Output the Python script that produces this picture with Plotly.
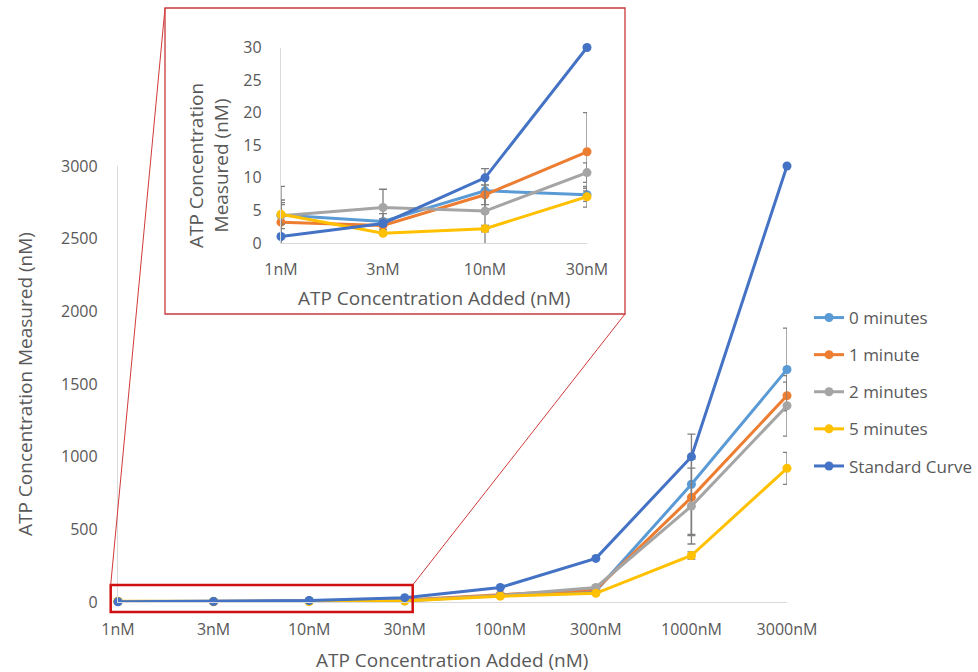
import plotly.graph_objects as go

# ---------------- data ----------------
categories = ["1nM", "3nM", "10nM", "30nM", "100nM", "300nM", "1000nM", "3000nM"]
series_names = ["0 minutes", "1 minute", "2 minutes", "5 minutes", "Standard Curve"]

min0 = [4.3, 3.3, 8.0, 7.4, 45, 75, 810, 1600]
min1 = [3.2, 2.7, 7.4, 14.0, 50, 85, 720, 1420]
min2 = [4.2, 5.45, 4.9, 10.8, 45, 100, 660, 1350]
min5 = [4.4, 1.5, 2.2, 7.1, 40, 60, 320, 920]
standard = [1, 3, 10, 30, 100, 300, 1000, 3000]

err0 = [4.4, 1.2, 3.4, 1.0, 10, 15, 345, 284]
err1 = [3.4, 1.0, 1.5, 6.0, 10, 15, 263, 93]
err2 = [2.0, 2.8, 5.0, 1.5, 10, 15, 261, 208]
err5 = [1.5, 0.3, 0.5, 1.6, 5, 10, 25, 110]

y_ticks = [0, 500, 1000, 1500, 2000, 2500, 3000]
inset_ticks = [0, 5, 10, 15, 20, 25, 30]
n_inset = 4

values = [min0, min1, min2, min5, standard]
errors = [err0, err1, err2, err5, None]
colors = ["#5B9BD5", "#ED7D31", "#A5A5A5", "#FFC000", "#4472C4"]

# ---------------- layout helpers ----------------
W, H = 978, 672
def px(x):
    return x / W
def py(y):
    return 1 - y / H

TXT = "#595959"
FONT = "Open Sans"
AX = "#d9d9d9"
ERRC = "#7f7f7f"

fig = go.Figure()

for name, vals, err, col in zip(series_names, values, errors, colors):
    ey = None
    if err is not None:
        ey = dict(type="data", array=err, visible=True, color=ERRC, thickness=1.3, width=4)
    fig.add_trace(go.Scatter(
        x=categories, y=vals, name=name, mode="lines+markers",
        line=dict(color=col, width=3), marker=dict(size=9, color=col),
        error_y=ey, cliponaxis=False, legendgroup=name,
        xaxis="x", yaxis="y"))

for name, vals, err, col in zip(series_names, values, errors, colors):
    ey = None
    if err is not None:
        ey = dict(type="data", array=err[:n_inset], visible=True, color=ERRC, thickness=1.3, width=4)
    fig.add_trace(go.Scatter(
        x=categories[:n_inset], y=vals[:n_inset], name=name, mode="lines+markers",
        line=dict(color=col, width=3), marker=dict(size=9, color=col),
        error_y=ey, cliponaxis=False, showlegend=False,
        xaxis="x2", yaxis="y2"))

axis_common = dict(showgrid=False, zeroline=False, showline=True, linecolor=AX,
                   linewidth=1.3, ticks="", fixedrange=True, automargin=False,
                   tickfont=dict(family=FONT, size=16, color=TXT))

fig.update_layout(
    width=W, height=H,
    margin=dict(l=0, r=0, t=0, b=0, autoexpand=False),
    paper_bgcolor="white", plot_bgcolor="rgba(0,0,0,0)",
    font=dict(family=FONT, color=TXT),
    xaxis=dict(domain=[px(118), px(787)], type="category", categoryorder="array",
               categoryarray=categories, range=[0, len(categories) - 1],
               ticklabelstandoff=13, anchor="y", **axis_common),
    yaxis=dict(domain=[py(602), py(166)], range=[0, 3000], tickvals=y_ticks,
               ticklabelstandoff=16, anchor="x", **axis_common),
    xaxis2=dict(domain=[px(281), px(587)], type="category", categoryorder="array",
                categoryarray=categories[:n_inset], range=[0, n_inset - 1],
                ticklabelstandoff=12, anchor="y2", **axis_common),
    yaxis2=dict(domain=[py(243), py(47.5)], range=[0, 30], tickvals=inset_ticks,
                ticklabelstandoff=15, anchor="x2", **axis_common),
    legend=dict(x=px(809), y=py(300), xanchor="left", yanchor="top",
                font=dict(family=FONT, size=17, color=TXT),
                tracegroupgap=12, bgcolor="rgba(0,0,0,0)"),
    showlegend=True,
)

# axis titles
title_font = dict(family=FONT, size=19, color=TXT)
ann = dict(xref="paper", yref="paper", showarrow=False, font=title_font,
           xanchor="center", yanchor="middle")
fig.add_annotation(text="ATP Concentration Added (nM)", x=px(452), y=py(660), **ann)
fig.add_annotation(text="ATP Concentration Measured (nM)", x=px(25), y=py(384),
                   textangle=-90, **ann)
fig.add_annotation(text="ATP Concentration Added (nM)", x=px(434), y=py(298), **ann)
fig.add_annotation(text="ATP Concentration<br>Measured (nM)", x=px(208), y=py(166),
                   textangle=-90, **ann)

# zoom indicator shapes
fig.add_shape(type="rect", xref="paper", yref="paper",
              x0=px(165), x1=px(625), y0=py(314), y1=py(8),
              line=dict(color="#c9383a", width=1.3), layer="below")
fig.add_shape(type="rect", xref="paper", yref="paper",
              x0=px(110.7), x1=px(412.7), y0=py(612), y1=py(585),
              line=dict(color="#d01010", width=2.5), layer="above")
fig.add_shape(type="line", xref="paper", yref="paper",
              x0=px(110.7), y0=py(585), x1=px(165), y1=py(8),
              line=dict(color="#d03a3a", width=1))
fig.add_shape(type="line", xref="paper", yref="paper",
              x0=px(412.7), y0=py(585), x1=px(625), y1=py(314),
              line=dict(color="#d03a3a", width=1))

fig.write_html("out.html")
